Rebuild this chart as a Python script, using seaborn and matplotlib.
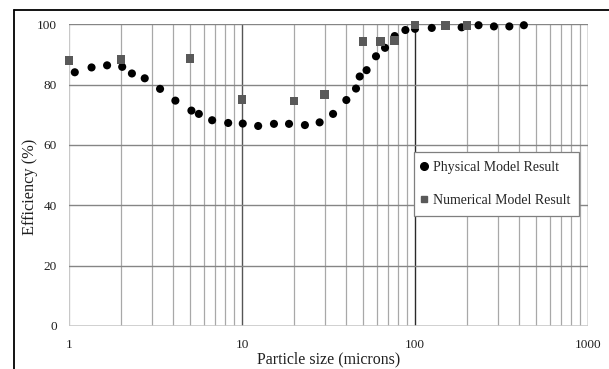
import matplotlib
matplotlib.use("Agg")
import matplotlib.pyplot as plt
import seaborn as sns
import pandas as pd
import numpy as np
from matplotlib.lines import Line2D
from matplotlib.ticker import FixedLocator, NullFormatter

# ---- data ----
phys_size = [1.08, 1.35, 1.66, 2.03, 2.31, 2.74, 3.36, 4.12, 5.1, 5.63, 6.72, 8.32,
             10.1, 12.4, 15.3, 18.7, 23.1, 28.1, 33.6, 40.1, 45.6, 47.9, 52.5, 59.5,
             67.1, 76.3, 88, 100, 125, 186, 233, 286, 351, 426]
phys_eff = [84.1, 85.7, 86.4, 85.9, 83.7, 82.1, 78.6, 74.7, 71.4, 70.3, 68.2, 67.3,
            67.1, 66.3, 67.0, 67.0, 66.6, 67.5, 70.3, 74.9, 78.7, 82.7, 84.8, 89.4,
            92.2, 96.1, 98.1, 98.5, 98.8, 99.0, 99.7, 99.3, 99.3, 99.7]
num_size = [1, 2, 5, 10, 20, 30, 50, 63, 76, 100, 150, 200]
num_eff = [87.9, 88.3, 88.7, 75.1, 74.6, 76.8, 94.3, 94.3, 94.7, 99.8, 99.7, 99.7]
y_ticks = [0, 20, 40, 60, 80, 100]
x_ticks = [1, 10, 100, 1000]
x_tick_labels = ["1", "10", "100", "1000"]

phys = pd.DataFrame({"size": phys_size, "eff": phys_eff})
num = pd.DataFrame({"size": num_size, "eff": num_eff})

sns.set_style("white")
plt.rcParams["font.family"] = ["Liberation Serif", "DejaVu Serif"]

W, H = 609, 369
fig = plt.figure(figsize=(W / 100, H / 100), dpi=100)
ax = fig.add_axes([69 / W, 1 - 326 / H, (588 - 69) / W, (326 - 24.3) / H])

ax.set_xscale("log")
ax.set_xlim(1, 1000)
ax.set_ylim(0, 100)

# grid lines
minor = [m * 10 ** e for e in range(0, 3) for m in range(2, 10)]
for v in minor:
    ax.axvline(v, color="#a8a8a8", lw=0.9, zorder=0.5)
for v in [10, 100, 1000]:
    ax.axvline(v, color="#555555" if v != 100 else "#2a2a2a", lw=1.0, zorder=0.6)
ax.axvline(1, color="#c8c8c8", lw=1.0, zorder=0.6)
for v in [20, 40, 60, 80, 100]:
    ax.axhline(v, color="#858585", lw=1.0, zorder=0.6)
ax.axhline(0, color="#c8c8c8", lw=1.2, zorder=0.6)

sns.scatterplot(data=phys, x="size", y="eff", ax=ax, color="black", marker="o",
                s=34, edgecolor="none", linewidth=0, zorder=3, clip_on=False,
                label="Physical Model Result")
sns.scatterplot(data=num, x="size", y="eff", ax=ax, color="#595959", marker="s",
                s=40, edgecolor="none", linewidth=0, zorder=4, clip_on=False,
                label="Numerical Model Result")

for sp in ax.spines.values():
    sp.set_visible(False)

ax.xaxis.set_major_locator(FixedLocator(x_ticks))
ax.set_xticklabels(x_tick_labels)
ax.xaxis.set_minor_formatter(NullFormatter())
ax.set_yticks(y_ticks)
ax.tick_params(axis="both", length=0, labelsize=9.5, colors="#202020")
ax.tick_params(axis="x", pad=9)
ax.tick_params(axis="y", pad=8.6)
ax.tick_params(which="minor", length=0)

ax.set_xlabel("Particle size (microns)", fontsize=11.4, labelpad=1, color="#202020")
ax.set_ylabel("Efficiency (%)", fontsize=11.8, color="#202020")
ax.yaxis.set_label_coords(-0.0588, 0.461)

handles = [Line2D([], [], marker="o", color="black", ls="none", markersize=5.5),
           Line2D([], [], marker="s", color="#595959", ls="none", markersize=4.5)]
leg = ax.legend(handles, ["Physical Model Result", "Numerical Model Result"],
                loc="upper left", bbox_to_anchor=(414 / W, 1 - 152 / H),
                bbox_transform=fig.transFigure, borderaxespad=0,
                fontsize=10, frameon=True, fancybox=False, framealpha=1,
                edgecolor="#7f7f7f", handlelength=0.2, handletextpad=0.5,
                labelspacing=1.44, borderpad=0.65)
leg.get_frame().set_linewidth(0.9)
leg.set_zorder(10)

# outer frame (left and top) of the original figure
fig.add_artist(Line2D([14 / W, 14 / W], [0, 1 - 10 / H], transform=fig.transFigure,
                      color="black", lw=1.3))
fig.add_artist(Line2D([14 / W, 1], [1 - 10 / H, 1 - 10 / H], transform=fig.transFigure,
                      color="black", lw=1.3))

fig.savefig("out.png", dpi=100)
